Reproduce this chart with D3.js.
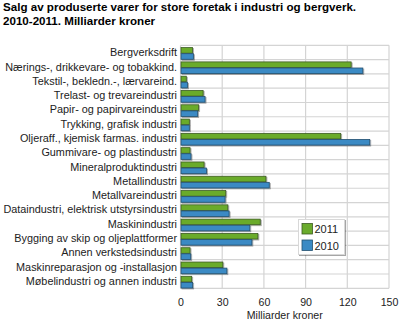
<!DOCTYPE html>
<html><head><meta charset="utf-8">
<script src="https://cdn.jsdelivr.net/npm/d3@7"></script>
<style>
body{margin:0;background:#fff;}
svg{display:block;font-family:"Liberation Sans",Arial,sans-serif;}
</style></head>
<body><svg id="c" width="399" height="323"></svg>
<script>
const categories = ["Bergverksdrift","Nærings-, drikkevare- og tobakkind.","Tekstil-, bekledn.-, lærvareind.","Trelast- og trevareindustri","Papir- og papirvareindustri","Trykking, grafisk industri","Oljeraff., kjemisk farmas. industri","Gummivare- og plastindustri","Mineralproduktindustri","Metallindustri","Metallvareindustri","Dataindustri, elektrisk utstyrsindustri","Maskinindustri","Bygging av skip og oljeplattformer","Annen verkstedsindustri","Maskinreparasjon og -installasjon","Møbelindustri og annen industri"];
const values2011 = [8.2,122.4,3.8,15.9,12.7,6.0,114.9,6.5,16.6,61.1,32.2,33.7,57.0,55.3,6.5,30.1,7.7];
const values2010 = [8.9,130.8,4.6,17.3,12.0,6.0,135.8,7.2,18.3,63.5,31.7,34.6,49.5,51.0,7.0,33.0,8.4];
const seriesNames = ["2011","2010"];
const tickValues = [0,30,60,90,120,150];
const title1 = "Salg av produserte varer for store foretak i industri og bergverk.";
const title2 = "2010-2011. Milliarder kroner";
const xTitle = "Milliarder kroner";
const colors = {"2011":"#6aab2c","2010":"#3a8ac4"};
const strokes = {"2011":"#3d5a22","2010":"#24506f"};

const svg = d3.select("#c");
const L = 180.5, R = 389, T = 45.3, B = 288.3;
const x = d3.scaleLinear().domain([0,150]).range([L,R]);
const y = d3.scaleBand().domain(categories).range([T,B]);
const ys = d3.scaleBand().domain(seriesNames).range([1.8, y.bandwidth()-0.3]);

svg.append("text").attr("x",3).attr("y",11).attr("font-weight","bold").attr("font-size","11.6px").text(title1);
svg.append("text").attr("x",3).attr("y",25).attr("font-weight","bold").attr("font-size","11.6px").text(title2);

// shadow filter
const defs = svg.append("defs");
const f = defs.append("filter").attr("id","sh").attr("x","-20%").attr("y","-20%").attr("width","140%").attr("height","160%");
f.append("feGaussianBlur").attr("in","SourceAlpha").attr("stdDeviation",0.6);
f.append("feOffset").attr("dx",1).attr("dy",1).attr("result","o");
f.append("feComponentTransfer").append("feFuncA").attr("type","linear").attr("slope",0.35);
const m = f.append("feMerge"); m.append("feMergeNode"); m.append("feMergeNode").attr("in","SourceGraphic");

// grid
const g = svg.append("g");
g.selectAll("line.v").data(tickValues).join("line")
 .attr("x1",d=>x(d)).attr("x2",d=>x(d)).attr("y1",T).attr("y2",B)
 .attr("stroke","#d4d4d4").attr("stroke-width",1.2);
const hLines = categories.map(c=>y(c)).concat([B]);
g.selectAll("line.h").data(hLines).join("line")
 .attr("x1",L).attr("x2",R).attr("y1",d=>d).attr("y2",d=>d)
 .attr("stroke","#d4d4d4").attr("stroke-width",1.2);

// bars
const rows = [];
categories.forEach((c,i)=>{ rows.push({c,s:"2011",v:values2011[i]}); rows.push({c,s:"2010",v:values2010[i]}); });
svg.append("g").selectAll("rect").data(rows).join("rect")
 .attr("x",x(0)+0.5).attr("y",d=>y(d.c)+ys(d.s)+0.5)
 .attr("width",d=>x(d.v)-x(0)).attr("height",ys.bandwidth()-0.5)
 .attr("fill",d=>colors[d.s]).attr("stroke",d=>strokes[d.s]).attr("stroke-width",0.8)
 .attr("filter","url(#sh)");

// category labels
svg.append("g").selectAll("text").data(categories).join("text")
 .attr("x",177).attr("y",d=>y(d)+y.bandwidth()/2+3.8)
 .attr("text-anchor","end").attr("font-size","10.85px").attr("fill","#222").text(d=>d);

// x axis
const ax = svg.append("g").attr("transform",`translate(0,${B})`)
 .call(d3.axisBottom(x).tickValues(tickValues).tickSize(0).tickPadding(10));
ax.select(".domain").remove();
ax.selectAll("text").attr("font-size","10.6px").attr("fill","#222").attr("font-family","Liberation Sans, Arial, sans-serif");
svg.append("text").attr("x",x(75)).attr("y",319).attr("text-anchor","middle").attr("font-size","10.6px").attr("fill","#222").text(xTitle);

// legend
const lg = svg.append("g");
lg.append("rect").attr("x",298.5).attr("y",219.5).attr("width",46).attr("height",35)
 .attr("fill","#fff").attr("stroke","#d8d8d8").attr("filter","url(#sh)");
seriesNames.forEach((s,i)=>{
  lg.append("rect").attr("x",302).attr("y",223.5+i*16.5).attr("width",10.5).attr("height",10.5)
   .attr("fill",colors[s]).attr("stroke",strokes[s]).attr("stroke-width",0.8);
  lg.append("text").attr("x",314.5).attr("y",233+i*16.5).attr("font-size","11px").attr("fill","#222").text(s);
});
</script></body></html>
